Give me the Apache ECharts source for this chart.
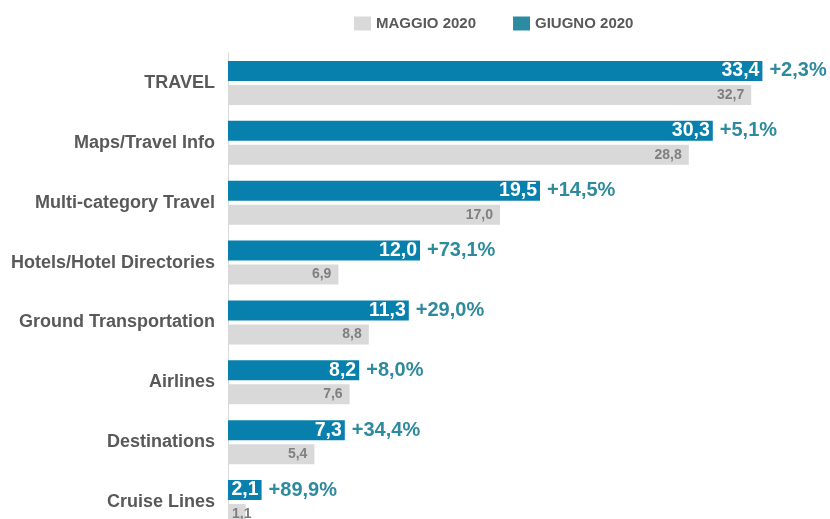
<!DOCTYPE html>
<html>
<head>
<meta charset="utf-8">
<script src="https://cdn.jsdelivr.net/npm/echarts@6/dist/echarts.min.js"></script>
<style>
html,body{margin:0;padding:0;background:#fff;}
#chart{width:830px;height:519px;}
</style>
</head>
<body>
<div id="chart"></div>
<script>
const categories = ['TRAVEL','Maps/Travel Info','Multi-category Travel','Hotels/Hotel Directories','Ground Transportation','Airlines','Destinations','Cruise Lines'];
const maggio2020 = [32.7, 28.8, 17.0, 6.9, 8.8, 7.6, 5.4, 1.1];
const giugno2020 = [33.4, 30.3, 19.5, 12.0, 11.3, 8.2, 7.3, 2.1];
const variazione = ['+2,3%','+5,1%','+14,5%','+73,1%','+29,0%','+8,0%','+34,4%','+89,9%'];

const fmt = v => v.toFixed(1).replace('.', ',');
const font = '"Liberation Sans", Arial, sans-serif';

const chart = echarts.init(document.getElementById('chart'), null, {renderer:'canvas'});
chart.setOption({
  animation: false,
  backgroundColor: '#ffffff',
  textStyle: {fontFamily: font},
  legend: {
    left: 349, top: 11,
    itemWidth: 17, itemHeight: 14, itemGap: 37,
    icon: 'rect',
    textStyle: {fontFamily: font, fontSize: 15, fontWeight: 'bold', color: '#595959'},
    data: [
      {name: 'MAGGIO 2020', itemStyle: {color: '#d9d9d9'}},
      {name: 'GIUGNO 2020', itemStyle: {color: '#2b8ba1'}}
    ]
  },
  grid: {left: 228, right: 26, top: 53, height: 479, containLabel: false, outerBoundsMode: 'none'},
  xAxis: {
    type: 'value', min: 0, max: 36,
    show: false
  },
  yAxis: {
    type: 'category', inverse: true, data: categories,
    axisLine: {show: true, lineStyle: {color: '#d9d9d9', width: 1}},
    axisTick: {show: false},
    axisLabel: {fontFamily: font, fontSize: 18, fontWeight: 'bold', color: '#595959', margin: 13}
  },
  series: [
    {
      name: 'GIUGNO 2020', type: 'bar', stack: 'g', data: giugno2020,
      barWidth: 20, barGap: '20%',
      itemStyle: {color: '#0780ad'},
      label: {show: true, position: 'insideRight', distance: 3, formatter: p => fmt(p.value),
        color: '#ffffff', fontFamily: font, fontSize: 19.5, fontWeight: 'bold'}
    },
    {
      name: 'pct', type: 'bar', stack: 'g', data: giugno2020.map(() => 0),
      barWidth: 20,
      itemStyle: {color: 'rgba(0,0,0,0)'},
      label: {show: true, position: 'right', distance: 7, formatter: p => variazione[p.dataIndex],
        color: '#2e8a9d', fontFamily: font, fontSize: 20, fontWeight: 'bold'}
    },
    {
      name: 'MAGGIO 2020', type: 'bar', data: maggio2020,
      barWidth: 20, barGap: '20%',
      itemStyle: {color: '#d9d9d9'},
      label: {show: true, position: 'insideRight', distance: 7, formatter: p => fmt(p.value),
        color: '#7f7f7f', fontFamily: font, fontSize: 14, fontWeight: 'bold'},
      labelLayout: function (params) {
        if (params.labelRect.x < 232) {
          return {
            x: 232 + params.labelRect.width / 2,
            y: params.rect.y + params.rect.height / 2,
            align: 'center', verticalAlign: 'middle'
          };
        }
        return {};
      }
    }
  ]
});
</script>
</body>
</html>
